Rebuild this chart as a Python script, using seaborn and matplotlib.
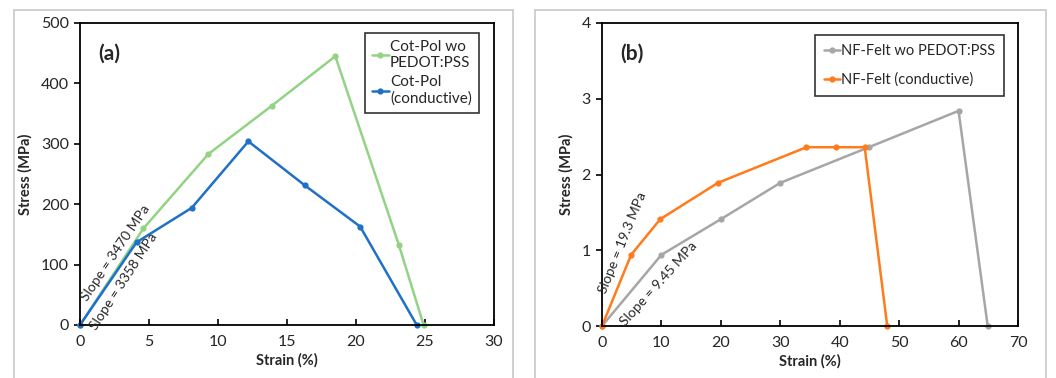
import matplotlib
matplotlib.use("Agg")
import matplotlib.pyplot as plt
import matplotlib.patches as mpatches
import seaborn as sns
import pandas as pd

# ── Data ──────────────────────────────────────────────
a_green_x = [0, 4.6, 9.3, 13.9, 18.5, 23.1, 24.9]
a_green_y = [0, 160, 283, 363, 445, 133, 0]
a_blue_x = [0, 4.1, 8.1, 12.2, 16.3, 20.3, 24.4]
a_blue_y = [0, 137, 194, 304, 231, 163, 0]

b_gray_x = [0, 10, 20, 30, 44.9, 60, 64.9]
b_gray_y = [0, 0.94, 1.41, 1.89, 2.36, 2.84, 0]
b_orange_x = [0, 4.9, 9.8, 19.5, 34.4, 39.3, 44.2, 48]
b_orange_y = [0, 0.94, 1.41, 1.89, 2.36, 2.36, 2.36, 0]

a_labels = ["Cot-Pol wo\nPEDOT:PSS", "Cot-Pol\n(conductive)"]
b_labels = ["NF-Felt wo PEDOT:PSS", "NF-Felt (conductive)"]

GREEN = "#92D384"
BLUE = "#1F70C8"
GRAY = "#A6A6A6"
ORANGE = "#FF7B1C"

sns.set_theme(style="white")
plt.rcParams["font.family"] = ["Lato", "DejaVu Sans"]

fig = plt.figure(figsize=(10.56, 3.78), dpi=100)
W, H = 1056, 378

# light gray panel frames
for x0, x1 in [(14, 513), (535, 1046)]:
    fig.patches.append(mpatches.Rectangle((x0 / W, -0.05), (x1 - x0) / W, (H - 10) / H + 0.05,
                                          transform=fig.transFigure, fill=False,
                                          edgecolor="#C8C8C8", linewidth=1.2))

ax1 = fig.add_axes([80 / W, 1 - 325 / H, (494 - 80) / W, (325 - 23) / H])
ax2 = fig.add_axes([602 / W, 1 - 326 / H, (1018 - 602) / W, (326 - 23) / H])

df_a = pd.concat([
    pd.DataFrame({"x": a_green_x, "y": a_green_y, "s": a_labels[0]}),
    pd.DataFrame({"x": a_blue_x, "y": a_blue_y, "s": a_labels[1]}),
])
df_b = pd.concat([
    pd.DataFrame({"x": b_gray_x, "y": b_gray_y, "s": b_labels[0]}),
    pd.DataFrame({"x": b_orange_x, "y": b_orange_y, "s": b_labels[1]}),
])

sns.lineplot(data=df_a, x="x", y="y", hue="s", palette=[GREEN, BLUE], sort=False,
             marker="o", markersize=4.5, markeredgewidth=0, linewidth=1.8, ax=ax1)
sns.lineplot(data=df_b, x="x", y="y", hue="s", palette=[GRAY, ORANGE], sort=False,
             marker="o", markersize=4.5, markeredgewidth=0, linewidth=1.8, ax=ax2)

for ax, xmax, xstep, ymax, ystep in [(ax1, 30, 5, 500, 100), (ax2, 70, 10, 4, 1)]:
    ax.set_xlim(0, xmax)
    ax.set_ylim(0, ymax)
    ax.set_xticks(range(0, xmax + 1, xstep))
    ax.set_yticks(range(0, ymax + 1, ystep))
    ax.set_xlabel("Strain (%)", fontsize=10.5, fontweight="bold", labelpad=3)
    ax.set_ylabel("Stress (MPa)", fontsize=10.5, fontweight="bold", labelpad=6)
    for sp in ax.spines.values():
        sp.set_color("black")
        sp.set_linewidth(1.3)
    ax.tick_params(axis="x", direction="in", length=4, width=1.2, labelsize=11.5, pad=7, color="black")
    ax.tick_params(axis="y", direction="out", length=4, width=1.2, labelsize=11.5, pad=4, color="black")
    ax.tick_params(left=True, bottom=True)
    for line in ax.lines:
        line.set_clip_on(False)

leg1 = ax1.legend(loc="upper left", bbox_to_anchor=(0.688, 0.967), borderaxespad=0,
                  fontsize=11, frameon=True, fancybox=False, edgecolor="black",
                  handlelength=1.1, handletextpad=0.1, borderpad=0.45, labelspacing=0.35)
leg2 = ax2.legend(loc="upper left", bbox_to_anchor=(0.512, 0.960), borderaxespad=0,
                  fontsize=10.5, frameon=True, fancybox=False, edgecolor="black",
                  handlelength=1.1, handletextpad=0.1, borderpad=0.6, labelspacing=1.0)
for leg in (leg1, leg2):
    leg.get_frame().set_linewidth(1.2)

ax1.text(0.045, 0.9, "(a)", transform=ax1.transAxes, fontsize=15, fontweight="bold", va="center")
ax2.text(0.045, 0.9, "(b)", transform=ax2.transAxes, fontsize=15, fontweight="bold", va="center")

ax1.text(2.6, 120, "Slope = 3470 MPa", rotation=56, fontsize=10, ha="center", va="center",
         rotation_mode="anchor")
ax1.text(3.15, 72, "Slope = 3358 MPa", rotation=57, fontsize=10, ha="center", va="center",
         rotation_mode="anchor")
ax2.text(3.5, 1.10, "Slope = 19.3 MPa", rotation=68, fontsize=10, ha="center", va="center",
         rotation_mode="anchor")
ax2.text(9.6, 0.55, "Slope = 9.45 MPa", rotation=48, fontsize=10, ha="center", va="center",
         rotation_mode="anchor")

plt.savefig("out.png", dpi=100)
print("saved")
